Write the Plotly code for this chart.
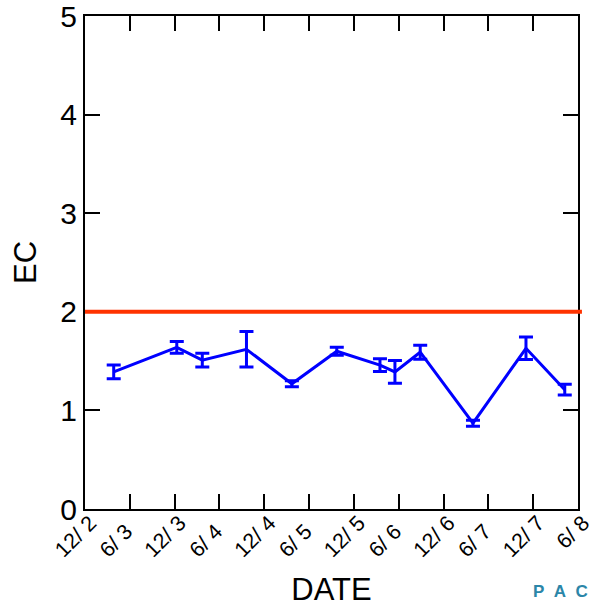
import plotly.graph_objects as go

dates = ["2003-03-28", "2003-12-10", "2004-03-23", "2004-09-19", "2005-03-23",
         "2005-09-22", "2006-03-17", "2006-05-17", "2006-08-28", "2007-03-31",
         "2007-11-02", "2008-04-08"]
ec = [1.39, 1.64, 1.51, 1.62, 1.27, 1.60, 1.46, 1.39, 1.59, 0.87, 1.63, 1.21]
ec_err = [0.07, 0.06, 0.07, 0.18, 0.03, 0.04, 0.065, 0.115, 0.07, 0.03, 0.115, 0.055]

tick_dates = ["2002-12-01", "2003-06-01", "2003-12-01", "2004-06-01", "2004-12-01",
              "2005-06-01", "2005-12-01", "2006-06-01", "2006-12-01", "2007-06-01",
              "2007-12-01", "2008-06-01"]
tick_text = ["12/ 2", "6/ 3", "12/ 3", "6/ 4", "12/ 4", "6/ 5", "12/ 5", "6/ 6",
             "12/ 6", "6/ 7", "12/ 7", "6/ 8"]
limit_value = 2

# pad the short inner labels so all labels are centred alike
pad = "\u00a0\u00a0"
tick_disp = [t if (len(t) == 5 or i == len(tick_text) - 1) else t + pad
             for i, t in enumerate(tick_text)]

fig = go.Figure()
fig.add_trace(go.Scatter(
    x=dates, y=ec, mode="lines",
    line=dict(color="#0000ff", width=3),
    error_y=dict(type="data", array=ec_err, visible=True, color="#0000ff",
                 thickness=3, width=7),
    showlegend=False,
))

fig.add_shape(type="line", xref="paper", yref="y", x0=0, x1=1.008,
              y0=limit_value, y1=limit_value,
              line=dict(color="#ff3300", width=4), layer="above")

font_family = "Liberation Sans, Arial, sans-serif"
fig.update_layout(
    width=589, height=607,
    margin=dict(l=85, r=11, t=16, b=98),
    paper_bgcolor="white", plot_bgcolor="white",
    font=dict(family=font_family, color="black"),
    xaxis=dict(
        type="date", range=[tick_dates[0], tick_dates[-1]],
        tickmode="array", tickvals=tick_dates, ticktext=tick_disp,
        tickangle=-45, tickfont=dict(size=21.5), ticklabelshift=5,
        ticklabelstandoff=-9,
        ticklabeloverflow="allow", automargin=False,
        ticks="inside", ticklen=15, tickwidth=2, tickcolor="black",
        showline=True, linecolor="black", linewidth=2, mirror="ticks",
        showgrid=False, zeroline=False,
        title=dict(text="DATE", font=dict(size=31), standoff=22),
    ),
    yaxis=dict(
        range=[0, 5], tickvals=[0, 1, 2, 3, 4, 5],
        tickfont=dict(size=30), ticklabeloverflow="allow", automargin=False,
        ticks="inside", ticklen=15, tickwidth=2, tickcolor="black",
        showline=True, linecolor="black", linewidth=2, mirror="ticks",
        showgrid=False, zeroline=False,
        title=dict(text="EC", font=dict(size=31), standoff=14),
    ),
)

fig.add_annotation(xref="paper", yref="paper", x=1.0, y=-0.167,
                   xanchor="right", yanchor="middle", showarrow=False,
                   text="<b>P\u00a0\u00a0A\u00a0\u00a0C</b>",
                   font=dict(size=17, color="#2b86a8", family=font_family),
                   xshift=12)

fig.write_html("out.html")
